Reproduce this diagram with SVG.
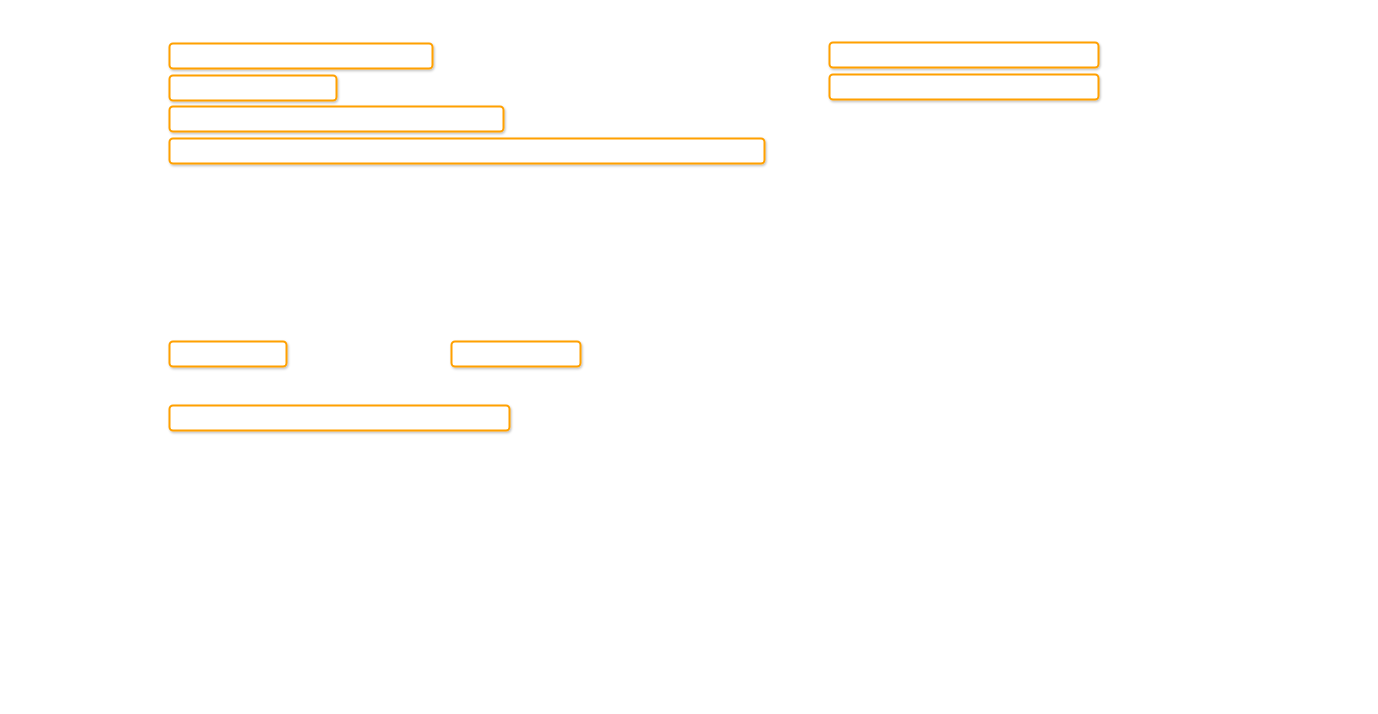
<svg xmlns="http://www.w3.org/2000/svg" width="1378" height="714" viewBox="0 0 1378 714">
<defs>
<filter id="sh" x="-5%" y="-30%" width="110%" height="160%">
<feDropShadow dx="1" dy="1.5" stdDeviation="1" flood-color="#000" flood-opacity="0.25"/>
</filter>
</defs>
<style>
.n{fill:#fff;stroke:#ffa000;stroke-width:2;filter:url(#sh)}
</style>
<rect width="1378" height="714" fill="#fff"/>
<g id="n1"><rect class="n" x="169.5" y="43.5" width="263" height="25" rx="3.5"/></g>
<g id="n2"><rect class="n" x="169.5" y="75.5" width="167" height="25" rx="3.5"/></g>
<g id="n3"><rect class="n" x="169.5" y="106.5" width="334" height="25" rx="3.5"/></g>
<g id="n4"><rect class="n" x="169.5" y="138.5" width="595" height="25" rx="3.5"/></g>
<g id="n5"><rect class="n" x="829.5" y="42.5" width="269" height="25" rx="3.5"/></g>
<g id="n6"><rect class="n" x="829.5" y="74.5" width="269" height="25" rx="3.5"/></g>
<g id="n7"><rect class="n" x="169.5" y="341.5" width="117" height="25" rx="3.5"/></g>
<g id="n8"><rect class="n" x="451.5" y="341.5" width="129" height="25" rx="3.5"/></g>
<g id="n9"><rect class="n" x="169.5" y="405.5" width="340" height="25" rx="3.5"/></g>
<g id="connectors"></g>
</svg>
